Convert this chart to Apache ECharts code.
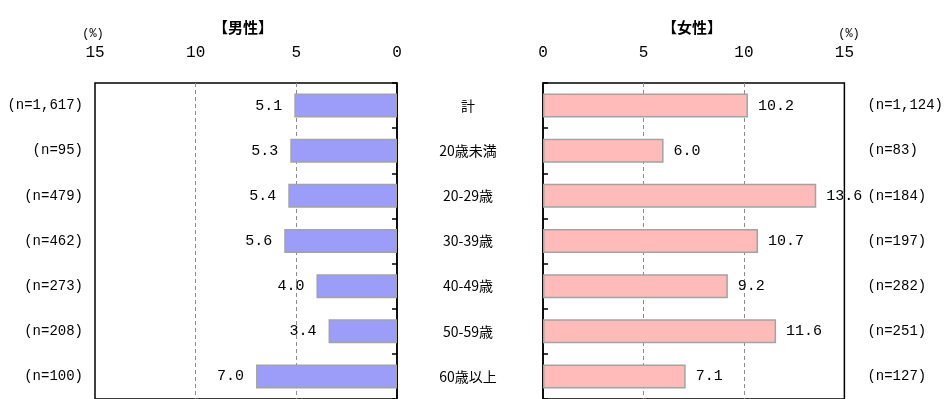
<!DOCTYPE html>
<html>
<head>
<meta charset="utf-8">
<script src="https://cdn.jsdelivr.net/npm/echarts@6/dist/echarts.min.js"></script>
<style>
  html, body { margin: 0; padding: 0; background: #fff; }
  #main { width: 946px; height: 399px; }
</style>
</head>
<body>
<div id="main"></div>
<script>
// カテゴリ
var categories = ['計', '20歳未満', '20-29歳', '30-39歳', '40-49歳', '50-59歳', '60歳以上'];
// 男性
var maleValues = [5.1, 5.3, 5.4, 5.6, 4.0, 3.4, 7.0];
var maleN = ['(n=1,617)', '(n=95)', '(n=479)', '(n=462)', '(n=273)', '(n=208)', '(n=100)'];
// 女性
var femaleValues = [10.2, 6.0, 13.6, 10.7, 9.2, 11.6, 7.1];
var femaleN = ['(n=1,124)', '(n=83)', '(n=184)', '(n=197)', '(n=282)', '(n=251)', '(n=127)'];
// 目盛
var axisMin = 0, axisMax = 15, axisStep = 5;

var mono = '"Liberation Mono", "DejaVu Sans Mono", monospace';
var jp = '"Noto Sans CJK JP", sans-serif';

var myChart = echarts.init(document.getElementById('main'));

function valueAxis(idx, inverse) {
  return {
    gridIndex: idx,
    type: 'value',
    min: axisMin,
    max: axisMax,
    interval: axisStep,
    inverse: inverse,
    position: 'top',
    axisLine: {show: false},
    axisTick: {show: false},
    axisLabel: {color: '#000', fontSize: 16, fontFamily: mono, margin: 22},
    splitLine: {
      show: true,
      lineStyle: {color: ['rgba(0,0,0,0)', '#8c8c8c', '#8c8c8c', 'rgba(0,0,0,0)'], type: [4, 3], width: 1}
    }
  };
}

var option = {
  animation: false,
  backgroundColor: '#fff',
  graphic: [
    {type: 'text', x: 243, y: 27, style: {text: '【男性】', font: 'bold 15px ' + jp, fill: '#000', align: 'center', verticalAlign: 'middle'}},
    {type: 'text', x: 692, y: 27, style: {text: '【女性】', font: 'bold 15px ' + jp, fill: '#000', align: 'center', verticalAlign: 'middle'}},
    {type: 'text', x: 93, y: 34, style: {text: '(%)', font: '12px ' + mono, fill: '#000', align: 'center', verticalAlign: 'middle'}},
    {type: 'text', x: 849, y: 34, style: {text: '(%)', font: '12px ' + mono, fill: '#000', align: 'center', verticalAlign: 'middle'}}
  ],
  grid: [
    {left: 95, top: 83, width: 302, height: 318.5, show: true, borderColor: '#000', borderWidth: 1.5, backgroundColor: '#fff'},
    {left: 543, top: 83, width: 303, height: 318.5, show: true, borderColor: '#000', borderWidth: 1.5, backgroundColor: '#fff'}
  ],
  xAxis: [valueAxis(0, true), valueAxis(1, false)],
  yAxis: [
    {
      gridIndex: 0, type: 'category', data: categories, inverse: true, position: 'right',
      axisLine: {show: true, lineStyle: {color: '#000', width: 1.5}},
      axisTick: {show: true, inside: true, length: 5, lineStyle: {color: '#000', width: 1.5}},
      axisLabel: {show: false}
    },
    {
      gridIndex: 0, type: 'category', data: maleN, inverse: true, position: 'left',
      axisLine: {show: false}, axisTick: {show: false},
      axisLabel: {color: '#000', fontSize: 14, fontFamily: mono, margin: 12}
    },
    {
      gridIndex: 1, type: 'category', data: categories, inverse: true, position: 'left',
      axisLine: {show: true, lineStyle: {color: '#000', width: 1.5}},
      axisTick: {show: true, inside: true, length: 5, lineStyle: {color: '#000', width: 1.5}},
      axisLabel: {color: '#000', fontSize: 14, fontFamily: jp, margin: 75, align: 'center'}
    },
    {
      gridIndex: 1, type: 'category', data: femaleN, inverse: true, position: 'right',
      axisLine: {show: false}, axisTick: {show: false},
      axisLabel: {color: '#000', fontSize: 14, fontFamily: mono, margin: 23, align: 'left'}
    }
  ],
  series: [
    {
      name: '男性', type: 'bar', xAxisIndex: 0, yAxisIndex: 0, data: maleValues, barWidth: 24,
      itemStyle: {color: '#9c9cf9', borderColor: '#a3a3a3', borderWidth: 1.5},
      label: {show: true, position: 'left', distance: 12, color: '#000', fontSize: 15, fontFamily: mono,
        formatter: function (p) { return p.value.toFixed(1); }}
    },
    {
      name: '女性', type: 'bar', xAxisIndex: 1, yAxisIndex: 2, data: femaleValues, barWidth: 24,
      itemStyle: {color: '#ffbaba', borderColor: '#a3a3a3', borderWidth: 1.5},
      label: {show: true, position: 'right', distance: 10, color: '#000', fontSize: 15, fontFamily: mono,
        formatter: function (p) { return p.value.toFixed(1); }}
    }
  ]
};

myChart.setOption(option);
</script>
</body>
</html>
